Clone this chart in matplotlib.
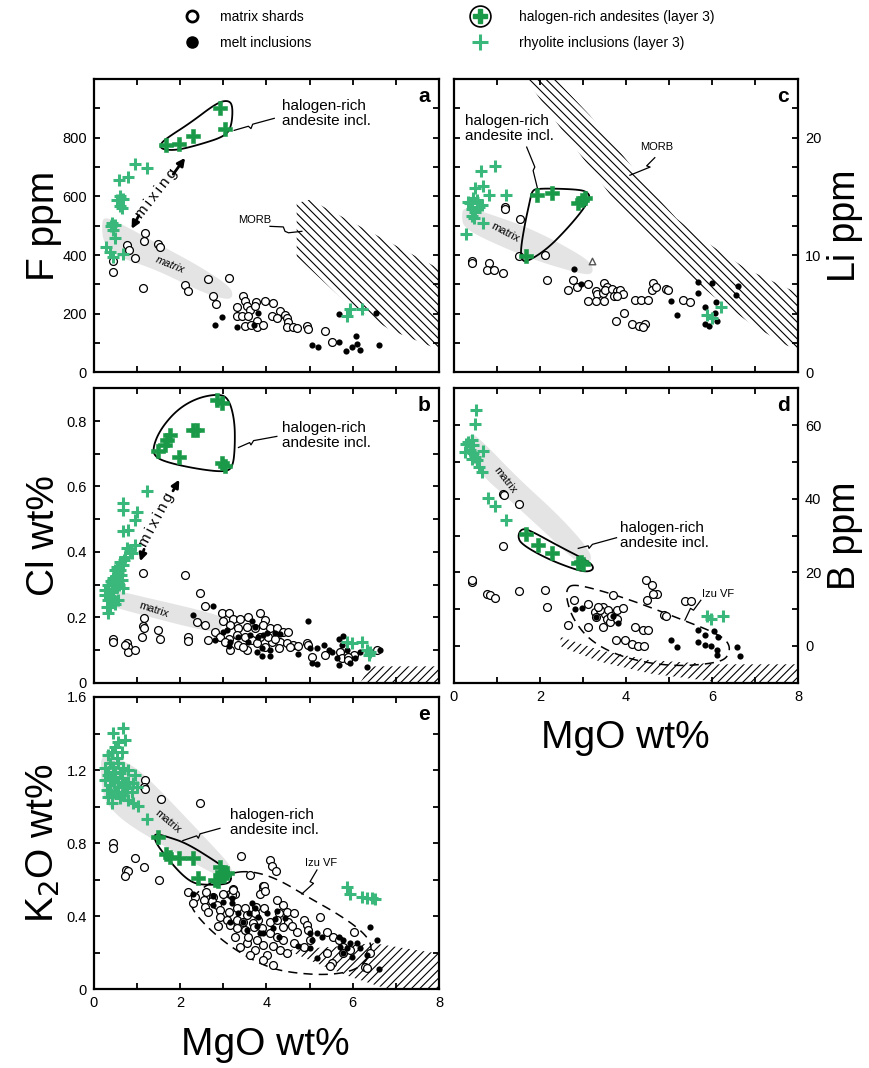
import numpy as np
import matplotlib
matplotlib.use('Agg')
import matplotlib.pyplot as plt
from matplotlib.patches import Polygon
from matplotlib.lines import Line2D
from matplotlib.ticker import FuncFormatter

plt.rcParams['font.family'] = ['Liberation Sans', 'DejaVu Sans']
plt.rcParams['hatch.linewidth'] = 0.8

RHYO = '#3ab77a'
HALO = '#1a9a48'
BAND = '#e4e4e4'

# ---------------- data (MgO wt%, value) ----------------
# panel a : F ppm
a_matrix = [(1.18,475),(1.17,447),(0.76,433),(0.82,418),(1.49,439),(1.53,427),(0.95,390),(0.43,381),
            (0.43,344),(1.14,287),(2.10,299),(2.17,278),(2.65,318),(3.12,321),(2.75,261),(2.83,235),
            (3.46,261),(3.50,242),(3.76,239),(3.97,244),(3.31,222),(3.54,227),(3.62,213),(3.74,225),
            (3.31,191),(3.43,191),(3.58,191),(3.77,177),(3.50,159),(3.64,162),(3.77,154),(3.93,162),
            (4.16,236),(4.32,211),(4.43,196),(4.12,191),(4.24,185),(4.47,185),(4.51,173),(4.47,154),
            (4.62,156),(4.70,151),(4.93,159),(4.97,147),(5.36,143),(5.51,105)]
a_melt = [(2.81,162),(2.96,188),(3.31,156),(3.70,162),(3.81,202),(5.67,199),(6.54,204),(5.05,94),
          (5.20,86),(5.67,105),(6.07,125),(5.98,86),(5.85,73),(6.09,97),(6.16,77),(6.62,94)]
a_rhyo = [(0.95,710),(1.24,696),(0.59,657),(0.80,666),(0.60,602),(0.53,587),(0.68,591),(0.60,568),
          (0.65,560),(0.41,509),(0.49,503),(0.45,486),(0.39,498),(0.49,458),(0.28,429),(0.36,412),
          (0.45,395),(0.68,404),(5.94,217),(6.21,217),(5.86,191)]
a_halo = [(2.92,902),(3.04,828),(2.30,805),(1.96,780),(1.67,776)]

# panel b : Cl wt%
b_matrix = [(1.14,0.334),(2.11,0.329),(2.46,0.273),(2.58,0.235),(2.38,0.186),(2.58,0.176),(1.17,0.199),
            (1.14,0.174),(1.17,0.166),(1.11,0.140),(1.49,0.161),(1.53,0.135),(0.45,0.135),(0.43,0.125),
            (0.76,0.120),(0.80,0.110),(0.80,0.094),(0.95,0.099),(0.72,0.115),(2.19,0.140),(2.17,0.128),
            (2.65,0.130),(2.81,0.156),(2.96,0.214),(3.14,0.214),(3.00,0.189),(3.23,0.196),(3.39,0.196),
            (3.58,0.200),(3.84,0.214),(3.97,0.193),(3.16,0.176),(3.35,0.166),(3.54,0.171),(3.74,0.166),
            (3.93,0.176),(4.08,0.166),(4.24,0.166),(4.39,0.156),(4.51,0.156),(2.92,0.140),(3.12,0.135),
            (3.31,0.145),(3.50,0.140),(3.66,0.130),(3.85,0.140),(4.12,0.125),(4.32,0.125),(4.47,0.120),
            (4.62,0.115),(4.74,0.112),(3.35,0.115),(3.54,0.099),(3.77,0.120),(3.97,0.110),(4.28,0.105),
            (4.55,0.108),(4.93,0.120),(4.97,0.115),(5.05,0.079),(5.36,0.084),(5.71,0.094),(5.75,0.074),
            (6.02,0.084),(5.90,0.079),(3.16,0.099),(6.56,0.099),(5.90,0.069),(3.04,0.125),(4.04,0.140),
            (4.20,0.135),(3.46,0.110)]
b_melt = [(2.30,0.207),(2.77,0.234),(2.98,0.156),(3.08,0.161),(3.16,0.125),(3.66,0.189),(3.74,0.171),
          (3.91,0.145),(4.01,0.151),(4.20,0.151),(4.32,0.149),(3.89,0.105),(3.89,0.081),(4.08,0.081),
          (4.07,0.099),(2.81,0.132),(3.14,0.112),(3.62,0.145),(3.81,0.140),(3.35,0.140),(4.72,0.087),
          (4.97,0.189),(5.01,0.105),(5.17,0.105),(5.05,0.059),(5.18,0.057),(5.34,0.115),(5.44,0.099),
          (5.51,0.094),(5.63,0.074),(5.67,0.054),(5.67,0.135),(5.78,0.142),(5.75,0.115),(5.86,0.099),
          (5.94,0.059),(6.06,0.077),(6.17,0.094),(6.33,0.048),(6.64,0.099),(3.77,0.094),(3.58,0.125)]
b_rhyo = [(1.22,0.586),(0.68,0.549),(0.68,0.528),(0.99,0.523),(0.95,0.497),(0.68,0.465),(0.80,0.467),
          (0.95,0.421),(0.83,0.406),(0.72,0.385),(0.60,0.370),(0.68,0.360),(0.49,0.344),(0.56,0.334),
          (0.45,0.319),(0.64,0.314),(0.33,0.298),(0.53,0.293),(0.41,0.278),(0.26,0.283),(0.45,0.263),
          (0.33,0.253),(0.56,0.253),(0.29,0.232),(0.49,0.242),(0.33,0.212),(0.76,0.411),(0.87,0.395),
          (0.53,0.355),(0.41,0.304),(0.68,0.288),(0.37,0.232),(0.26,0.268),(0.60,0.345),(0.50,0.325),
          (0.40,0.310),(0.58,0.300),(0.45,0.285),(0.36,0.265),(0.62,0.330),(0.70,0.375),
          (5.86,0.125),(5.98,0.120),(6.21,0.125),(6.33,0.099),(6.40,0.094),(6.37,0.084)]
b_halo = [(2.85,0.865),(2.96,0.855),(2.38,0.773),(2.30,0.773),(1.76,0.758),(1.70,0.742),(1.65,0.727),
          (1.49,0.707),(1.96,0.689),(2.96,0.671),(3.04,0.663)]

# panel c : Li ppm
c_matrix = [(1.19,14.1),(1.19,13.9),(1.53,13.1),(1.50,9.9),(2.12,10.0),(0.43,9.5),(0.43,9.3),(0.82,9.3),
            (0.76,8.7),(0.93,8.7),(1.15,8.5),(2.17,7.9),(2.76,7.9),(2.66,7.0),(2.85,7.3),(3.12,7.5),
            (3.49,7.6),(3.55,7.3),(3.30,6.9),(3.32,6.7),(3.46,6.8),(3.51,7.0),(3.67,7.1),(3.78,6.9),
            (3.86,7.0),(3.94,6.7),(3.71,6.5),(3.78,6.5),(3.12,6.1),(3.30,6.1),(3.49,6.1),(4.21,6.2),
            (4.36,6.2),(4.50,6.2),(4.62,7.6),(4.60,7.0),(4.70,7.3),(4.93,7.1),(4.98,7.0),(5.33,6.2),
            (5.49,6.0),(3.95,5.1),(3.76,4.4),(4.13,4.1),(4.31,4.0),(4.44,4.1),(4.40,3.9)]
c_melt = [(2.80,8.8),(2.95,7.5),(5.04,6.1),(5.19,4.9),(5.68,7.7),(5.68,6.8),(5.99,7.6),(5.84,5.6),
          (6.09,6.0),(6.07,5.1),(5.94,4.0),(5.84,4.1),(6.11,4.4),(6.56,6.6),(6.61,7.4)]
c_rhyo = [(0.95,17.6),(0.62,17.2),(0.49,15.7),(0.68,15.9),(0.82,15.1),(1.22,15.1),(0.33,14.5),(0.45,14.9),
          (0.53,14.7),(0.64,14.3),(0.41,13.9),(0.49,13.7),(0.43,13.3),(0.47,13.2),(0.67,12.7),(0.28,11.8),
          (0.37,14.4),(0.57,14.1),(5.88,4.9),(5.99,4.6),(6.22,5.6)]
c_halo = [(1.94,15.1),(2.29,15.3),(2.89,14.4),(2.97,14.7),(3.05,14.9),(1.67,9.9)]
c_other = [(3.22,9.46)]

# panel d : B ppm
d_matrix = [(0.43,17.4),(0.43,17.9),(0.76,14.2),(0.84,13.8),(0.95,12.9),(1.15,41.4),(1.16,40.9),
            (1.52,38.5),(1.13,27.1),(1.50,15.0),(2.12,15.1),(2.16,10.6),(2.66,5.6),(2.78,12.6),
            (3.12,11.5),(3.28,9.2),(3.30,7.9),(3.47,10.6),(3.51,8.8),(3.55,7.4),(3.59,9.7),(3.63,6.5),
            (3.78,9.7),(3.92,10.2),(3.46,5.2),(3.12,5.2),(3.69,13.8),(3.80,7.4),(4.21,5.2),(4.40,4.4),
            (4.52,4.4),(3.77,1.7),(3.98,1.7),(4.13,0.6),(4.29,-0.1),(4.42,0.1),(4.47,17.9),(4.48,12.6),
            (4.60,16.5),(4.71,14.2),(4.62,14.2),(4.88,8.3),(4.93,8.1),(5.37,12.3),(5.50,12.3),
            (3.40,9.8),(3.35,10.5),(3.66,8.2)]
d_melt = [(2.81,9.9),(2.97,10.4),(3.30,7.9),(3.69,8.1),(3.82,6.1),(5.04,1.5),(5.19,-0.4),(5.68,4.3),
          (5.84,2.9),(6.05,4.1),(6.15,2.3),(5.68,1.1),(5.84,0.2),(5.97,-0.1),(6.11,-1.0),(6.11,-2.5),
          (6.57,-0.3),(6.64,-2.7)]
d_rhyo = [(0.51,64.0),(0.49,60.2),(0.33,55.4),(0.41,55.9),(0.26,52.7),(0.37,53.2),(0.45,52.3),(0.68,53.0),
          (0.53,50.5),(0.57,48.7),(0.64,47.3),(0.78,40.3),(0.95,38.0),(1.22,34.2),(0.28,55.0),(0.45,54.5),
          (0.49,51.4),(0.41,50.9),(5.88,8.1),(5.97,7.2),(6.25,8.2)]
d_halo = [(1.67,30.3),(1.96,27.4),(2.29,25.3),(2.89,22.6),(2.99,22.2),(2.95,22.8)]

# panel e : K2O wt%
e_matrix = [(1.18,1.146),(1.17,1.106),(1.18,1.095),(1.55,1.040),(2.46,1.018),(0.45,0.800),(0.45,0.772),
            (0.95,0.717),(1.16,0.671),(0.74,0.653),(0.80,0.648),(0.72,0.620),(1.50,0.598),(3.41,0.730),
            (4.08,0.708),(4.12,0.677),(4.22,0.648),(3.62,0.626),(3.93,0.566),(3.93,0.544),(3.85,0.522),
            (3.23,0.547),(3.16,0.522),(3.27,0.522),
            (3.95,0.567),(3.97,0.538),(2.19,0.534),(2.60,0.531),(3.00,0.520),(3.19,0.516),(3.23,0.544),
            (2.34,0.507),(2.77,0.507),(2.54,0.489),(2.73,0.485),(2.29,0.471),(2.57,0.452),(2.85,0.461),
            (2.65,0.425),(2.92,0.434),(3.12,0.425),(3.31,0.443),(3.50,0.443),(3.76,0.452),(3.94,0.443),
            (4.24,0.489),(4.39,0.461),(4.47,0.425),(4.28,0.416),(3.54,0.407),(3.74,0.416),(3.81,0.379),
            (4.08,0.370),(4.24,0.379),(4.51,0.370),(4.64,0.416),(2.92,0.396),(3.08,0.379),(3.31,0.379),
            (3.46,0.370),(3.68,0.365),(3.16,0.352),(3.31,0.334),(3.50,0.325),(3.70,0.339),(3.89,0.334),
            (4.39,0.343),(4.59,0.347),(4.70,0.316),(4.08,0.310),(4.24,0.288),(4.39,0.270),(3.77,0.270),
            (3.54,0.252),(3.93,0.243),(4.16,0.237),(3.74,0.215),(4.01,0.188),(4.31,0.215),(4.86,0.379),
            (4.93,0.352),(4.97,0.325),(5.23,0.396),(5.40,0.316),(5.55,0.288),(5.67,0.270),(5.78,0.233),
            (6.02,0.316),(5.51,0.142),(5.48,0.128),(3.93,0.160),(4.16,0.133),(6.29,0.124),(6.33,0.115),
            (6.40,0.197),(2.88,0.347),(3.27,0.288),(3.58,0.288),(3.39,0.233),(3.62,0.188),(4.63,0.252),
            (4.86,0.233),(4.47,0.197),(5.01,0.270),(5.40,0.197),(5.78,0.197),(5.94,0.215)]
e_melt = [(2.30,0.522),(2.77,0.511),(3.00,0.480),(3.19,0.471),(2.77,0.461),(3.19,0.498),(3.66,0.471),
          (3.74,0.443),(4.01,0.420),(4.24,0.430),(3.35,0.420),(3.60,0.420),(3.16,0.370),(3.46,0.370),
          (3.81,0.394),(4.20,0.383),(4.43,0.388),(3.77,0.347),(3.93,0.306),(3.85,0.306),(4.16,0.334),
          (4.28,0.288),(4.74,0.237),(5.01,0.306),(5.17,0.306),(5.28,0.288),(5.05,0.270),(5.01,0.224),
          (5.17,0.170),(5.67,0.288),(5.78,0.270),(5.94,0.252),(6.09,0.252),(5.71,0.233),(5.86,0.224),
          (5.78,0.197),(5.98,0.179),(6.17,0.224),(6.33,0.188),(6.56,0.270),(6.62,0.109),(6.40,0.343),
          (3.54,0.325)]
e_rhyo = [(0.68,1.429),(0.45,1.401),(0.56,1.356),(0.72,1.365),(0.49,1.328),(0.41,1.301),(0.64,1.301),
          (0.33,1.283),(0.53,1.264),(0.37,1.237),(0.56,1.237),(0.45,1.219),(0.26,1.210),(0.68,1.210),
          (0.80,1.200),(0.49,1.191),(0.60,1.182),(0.33,1.173),(0.95,1.173),(0.26,1.146),(0.45,1.146),
          (0.64,1.155),(0.80,1.136),(0.91,1.127),(0.37,1.118),(0.56,1.109),(0.76,1.100),(0.99,1.109),
          (0.29,1.091),(0.49,1.082),(0.68,1.082),(0.87,1.082),(0.33,1.055),(0.60,1.046),(0.80,1.036),
          (0.41,1.018),(0.91,1.018),(1.03,1.003),(1.22,0.930),(0.49,1.164),(0.56,1.136),(0.72,1.118),
          (0.41,1.064),(0.64,1.064),
          (5.86,0.562),(5.94,0.522),(6.21,0.507),(6.33,0.498),(6.44,0.498),(6.52,0.494)]
e_halo = [(1.49,0.836),(1.66,0.741),(1.76,0.726),(1.96,0.717),(2.29,0.717),(2.42,0.607),(2.81,0.598),
          (2.92,0.671),(2.96,0.644),(3.02,0.626),(3.08,0.638),(2.88,0.595)]

# ---------------- fields / outlines (MgO wt%, value) ----------------
a_band = [(0.22,532),(0.60,509),(1.45,441),(2.46,361),(3.16,293),(3.23,259),(3.08,247),(2.46,276),
          (1.45,350),(0.53,395),(0.22,441),(0.18,498)]
a_ring = [(1.53,777),(1.69,799),(2.23,850),(2.85,919),(3.12,928),(3.22,907),(3.19,839),(3.04,805),
          (2.46,777),(1.92,757),(1.57,760)]
a_morb = [(4.70,577),(5.01,589),(8.3,330),(8.3,60),(6.87,145),(5.78,247),(4.70,395)]

b_band = [(0.30,0.290),(0.53,0.281),(2.85,0.210),(3.00,0.193),(2.96,0.166),(2.81,0.149),(0.45,0.230),
          (0.30,0.240)]
b_ring = [(2.88,0.883),(3.12,0.870),(3.26,0.804),(3.27,0.722),(3.22,0.659),(3.04,0.644),(2.46,0.652),
          (1.76,0.671),(1.42,0.689),(1.36,0.717),(1.53,0.773),(1.92,0.834),(2.38,0.870)]
b_morb = [(6.13,-0.01),(6.40,0.050),(8.3,0.050),(8.3,-0.01)]

c_band = [(0.22,14.1),(0.68,13.7),(1.84,12.2),(3.01,9.9),(3.24,9.0),(3.20,8.3),(2.85,8.5),(1.84,9.6),
          (0.68,11.4),(0.22,12.4),(0.18,13.3)]
c_ring = [(1.81,15.4),(1.92,15.7),(2.93,15.6),(3.12,15.3),(3.16,14.9),(3.01,13.9),(2.62,12.2),
          (2.16,10.5),(1.69,9.4),(1.57,9.6),(1.55,10.5),(1.65,12.7),(1.77,14.7)]
c_morb = [(1.95,26.5),(2.39,24.9),(3.16,21.9),(3.86,18.8),(4.56,15.6),(5.18,13.1),(5.87,11.1),
          (6.81,8.8),(7.97,6.8),(8.3,6.1),(8.3,1.4),(7.97,2.0),(7.74,2.3),(6.96,4.0),(6.03,6.5),
          (5.18,9.1),(4.40,11.9),(3.70,14.8),(3.07,17.9),(2.54,20.5),(1.73,24.7),(1.38,26.5)]

d_band = [(0.37,58.2),(0.68,55.4),(1.46,45.9),(2.47,35.1),(3.16,26.0),(3.20,22.8),(2.97,21.5),
          (2.23,29.6),(1.30,39.6),(0.60,46.8),(0.26,54.1)]
d_ring = [(1.57,31.9),(1.77,31.4),(2.47,26.9),(3.16,22.8),(3.26,21.0),(3.12,20.1),(2.85,20.6),
          (2.16,23.7),(1.57,27.6),(1.48,29.8)]
d_izu = [(2.62,15.6),(2.78,16.8),(3.40,15.1),(4.25,11.9),(5.33,7.0),(6.11,3.4),(6.42,0.6),(6.38,-3.0),
         (6.11,-4.6),(5.33,-5.5),(4.56,-4.8),(3.78,-2.5),(3.16,1.5),(2.78,7.0),(2.62,12.4)]
d_morb = [(2.47,2.5),(3.40,-1.2),(4.56,-3.9),(6.11,-5.0),(8.3,-5.0),(8.3,-11),(6.11,-9.8),(4.56,-7.5),
          (3.40,-4.3),(2.50,-0.3)]

e_band = [(0.18,1.301),(0.91,1.228),(1.45,1.109),(2.15,0.936),(2.77,0.781),(3.16,0.680),(3.23,0.626),
          (3.08,0.598),(2.46,0.671),(1.45,0.808),(0.76,0.908),(0.37,0.991),(0.22,1.055),(0.15,1.182)]
e_ring = [(1.39,0.854),(1.69,0.836),(2.15,0.799),(2.77,0.708),(3.16,0.644),(3.19,0.598),(3.08,0.575),
          (2.61,0.571),(2.30,0.580),(2.00,0.635),(1.61,0.744),(1.42,0.808)]
e_izu = [(3.12,0.635),(3.62,0.649),(4.24,0.607),(5.01,0.498),(5.63,0.416),(6.17,0.328),(6.44,0.252),
         (6.40,0.179),(6.09,0.106),(5.48,0.078),(4.70,0.087),(4.08,0.115),(3.39,0.197),(2.77,0.306),
         (2.30,0.425),(2.23,0.489),(2.54,0.562)]
e_morb = [(4.47,0.215),(5.55,0.233),(6.48,0.252),(7.95,0.197),(8.3,0.17),(8.3,-0.01),(6.95,-0.01),
          (5.94,0.069),(5.17,0.142)]


def smooth(pts, n=4):
    p = np.asarray(pts, float)
    for _ in range(n):
        q = np.roll(p, -1, axis=0)
        new = np.empty((2 * len(p), 2))
        new[0::2] = 0.75 * p + 0.25 * q
        new[1::2] = 0.25 * p + 0.75 * q
        p = new
    return p


def xy(pts):
    p = np.asarray(pts, float)
    return p[:, 0], p[:, 1]


def points(ax, matrix, melt, rhyo, halo):
    x, y = xy(matrix)
    ax.scatter(x, y, s=32, facecolors='white', edgecolors='black', linewidths=0.9, zorder=3)
    x, y = xy(melt)
    ax.scatter(x, y, s=20, c='black', linewidths=0, zorder=3.5)
    x, y = xy(rhyo)
    ax.scatter(x, y, s=70, marker='+', c=RHYO, linewidths=2.2, zorder=4)
    x, y = xy(halo)
    ax.scatter(x, y, s=110, marker='P', c=HALO, edgecolors=HALO, linewidths=0.4, zorder=6)


def fields(ax, band, ring, morb, hatch, izu=None):
    ax.add_patch(Polygon(smooth(band), closed=True, facecolor=BAND, edgecolor='none', zorder=0.5))
    ax.add_patch(Polygon(smooth(ring), closed=True, facecolor='none', edgecolor='black', lw=1.3, zorder=5))
    ax.add_patch(Polygon(morb, closed=True, facecolor='none', edgecolor='black', lw=0, hatch=hatch, zorder=0.6))
    if izu is not None:
        ax.add_patch(Polygon(smooth(izu), closed=True, facecolor='none', edgecolor='black', lw=1.1,
                             linestyle=(0, (6, 4)), zorder=2))


def leader(ax, pts):
    x, y = xy(pts)
    ax.plot(x, y, color='black', lw=0.9, zorder=5)


def halo_label(ax, x, y):
    ax.text(x, y, 'halogen-rich\nandesite incl.', fontsize=11, ha='left', va='center',
            linespacing=1.1, zorder=7)


def frame(ax, ylim, yticks, ylabels, side='left', xlabels=False):
    ax.set_xlim(0, 8)
    ax.set_ylim(*ylim)
    ax.set_xticks(np.arange(0, 9, 1))
    ax.set_xticklabels([str(v) if (xlabels and v % 2 == 0) else '' for v in range(9)])
    ax.set_yticks(yticks)
    ax.yaxis.set_major_formatter(FuncFormatter(lambda v, p: ylabels.get(round(v, 3), '')))
    ax.tick_params(direction='in', length=4, width=1.3, top=True, right=True, left=True, bottom=True,
                   labelsize=10.5, pad=5)
    if side == 'right':
        ax.tick_params(labelleft=False, labelright=True)
        ax.yaxis.set_label_position('right')
    for s in ax.spines.values():
        s.set_linewidth(1.6)


def letter(ax, s):
    ax.text(0.957, 0.94, s, transform=ax.transAxes, fontsize=15, fontweight='bold', ha='center', va='center')


fig = plt.figure(figsize=(8.7, 10.68), dpi=100)
W, H = 870.0, 1068.0


def box(l, t, r, b):
    return fig.add_axes([l / W, 1 - b / H, (r - l) / W, (b - t) / H])


ax_a = box(94, 79, 439, 372.5)
ax_c = box(454, 79, 798, 372.5)
ax_b = box(94, 388.3, 439, 682.7)
ax_d = box(454, 388.3, 798, 682.7)
ax_e = box(94, 697, 439, 989.3)

BS = '\\' * 4
FS = '/' * 4
MIX = '\u2009'.join('mixing')

# ---- a ----
points(ax_a, a_matrix, a_melt, a_rhyo, a_halo)
fields(ax_a, a_band, a_ring, a_morb, BS)
frame(ax_a, (0, 1000), np.arange(0, 1000, 100), {0: '0', 200: '200', 400: '400', 600: '600', 800: '800'})
halo_label(ax_a, 4.35, 881)
leader(ax_a, [(3.25, 825), (3.58, 839), (3.64, 831), (3.68, 846), (4.18, 866)])
ax_a.text(3.35, 520, 'MORB', fontsize=8, ha='left', va='center')
leader(ax_a, [(4.08, 498), (4.39, 496), (4.43, 481), (4.51, 476), (4.82, 481)])
ax_a.text(1.45, 611, MIX, fontsize=11, rotation=52, ha='center', va='center')
ax_a.annotate('', xy=(2.15, 739), xytext=(1.80, 668),
              arrowprops=dict(arrowstyle='-|>', lw=2, color='black', mutation_scale=11))
ax_a.annotate('', xy=(0.84, 481), xytext=(1.07, 543),
              arrowprops=dict(arrowstyle='-|>', lw=2, color='black', mutation_scale=11))
ax_a.text(1.76, 367, 'matrix', fontsize=8, rotation=-22, ha='center', va='center', style='italic')
ax_a.set_ylabel('F ppm', fontsize=28)
ax_a.yaxis.set_label_coords(-0.093, 0.5)
letter(ax_a, 'a')

# ---- b ----
points(ax_b, b_matrix, b_melt, b_rhyo, b_halo)
fields(ax_b, b_band, b_ring, b_morb, FS)
frame(ax_b, (0, 0.9), np.round(np.arange(0, 0.9, 0.1), 2),
      {0.0: '0', 0.2: '0.2', 0.4: '0.4', 0.6: '0.6', 0.8: '0.8'})
halo_label(ax_b, 4.35, 0.757)
leader(ax_b, [(3.35, 0.719), (3.61, 0.734), (3.64, 0.727), (3.70, 0.740), (4.24, 0.753)])
ax_b.text(1.45, 0.497, MIX, fontsize=11, rotation=62, ha='center', va='center')
ax_b.annotate('', xy=(2.01, 0.628), xytext=(1.80, 0.579),
              arrowprops=dict(arrowstyle='-|>', lw=2, color='black', mutation_scale=11))
ax_b.annotate('', xy=(1.05, 0.363), xytext=(1.18, 0.416),
              arrowprops=dict(arrowstyle='-|>', lw=2, color='black', mutation_scale=11))
ax_b.text(1.38, 0.222, 'matrix', fontsize=8, rotation=-18, ha='center', va='center')
ax_b.set_ylabel('Cl wt%', fontsize=28)
ax_b.yaxis.set_label_coords(-0.093, 0.5)
letter(ax_b, 'b')

# ---- c ----
points(ax_c, c_matrix, c_melt, c_rhyo, c_halo)
x, y = xy(c_other)
ax_c.scatter(x, y, s=22, marker='^', facecolors='white', edgecolors='#555555', linewidths=1, zorder=3)
fields(ax_c, c_band, c_ring, c_morb, BS)
frame(ax_c, (0, 25), np.arange(0, 25, 2.5), {0: '0', 10: '10', 20: '20'}, side='right')
halo_label(ax_c, 0.26, 20.8)
leader(ax_c, [(1.69, 19.2), (1.88, 17.5), (1.84, 17.2), (1.94, 15.7)])
ax_c.text(4.33, 19.2, 'MORB', fontsize=8, ha='left', va='center')
leader(ax_c, [(4.67, 18.3), (4.48, 17.6), (4.56, 17.5), (4.09, 16.8)])
ax_c.text(1.19, 11.9, 'matrix', fontsize=8, rotation=-28, ha='center', va='center')
ax_c.set_ylabel('Li ppm', fontsize=27, rotation=90)
ax_c.yaxis.set_label_coords(1.083, 0.5)
letter(ax_c, 'c')

# ---- d ----
points(ax_d, d_matrix, d_melt, d_rhyo, d_halo)
fields(ax_d, d_band, d_ring, d_morb, FS, izu=d_izu)
frame(ax_d, (-10, 70), np.arange(-10, 70, 10), {0: '0', 20: '20', 40: '40', 60: '60'}, side='right',
      xlabels=True)
halo_label(ax_d, 3.86, 30.1)
leader(ax_d, [(2.89, 26.5), (3.12, 27.2), (3.14, 26.5), (3.22, 27.6), (3.78, 29.4)])
ax_d.text(5.76, 14.2, 'Izu VF', fontsize=8, ha='left', va='center')
leader(ax_d, [(5.74, 12.4), (5.57, 9.7), (5.50, 10.2), (5.37, 7.0)])
ax_d.text(1.19, 45.0, 'matrix', fontsize=8, rotation=-52, ha='center', va='center')
ax_d.set_ylabel('B ppm', fontsize=27, rotation=90)
ax_d.yaxis.set_label_coords(1.083, 0.5)
ax_d.set_xlabel('MgO wt%', fontsize=28)
ax_d.xaxis.set_label_coords(0.497, -0.125)
letter(ax_d, 'd')

# ---- e ----
points(ax_e, e_matrix, e_melt, e_rhyo, e_halo)
fields(ax_e, e_band, e_ring, e_morb, FS, izu=e_izu)
frame(ax_e, (0, 1.6), np.round(np.arange(0, 1.6, 0.2), 2),
      {0.0: '0', 0.4: '0.4', 0.8: '0.8', 1.2: '1.2', 1.6: '1.6'}, xlabels=True)
ax_e.set_yticks(np.round(np.arange(0, 1.7, 0.2), 2))
halo_label(ax_e, 3.16, 0.915)
leader(ax_e, [(2.06, 0.814), (2.38, 0.840), (2.42, 0.827), (2.46, 0.851), (2.92, 0.881)])
ax_e.text(4.90, 0.690, 'Izu VF', fontsize=8, ha='left', va='center')
leader(ax_e, [(5.17, 0.653), (5.01, 0.589), (5.09, 0.580), (4.82, 0.522)])
ax_e.text(1.72, 0.918, 'matrix', fontsize=8, rotation=-40, ha='center', va='center')
ax_e.set_ylabel('K$_2$O wt%', fontsize=28)
ax_e.yaxis.set_label_coords(-0.093, 0.5)
ax_e.set_xlabel('MgO wt%', fontsize=28)
ax_e.xaxis.set_label_coords(0.496, -0.13)
letter(ax_e, 'e')

# ---- legend ----
h_open = Line2D([], [], ls='none', marker='o', ms=8, mfc='white', mec='black', mew=2)
h_melt = Line2D([], [], ls='none', marker='o', ms=8, mfc='black', mec='black')
h_ring = Line2D([], [], ls='none', marker='o', ms=15, mfc='white', mec='black', mew=1.2)
h_halo = Line2D([], [], ls='none', marker='P', ms=10, mfc=HALO, mec=HALO)
h_rhyo = Line2D([], [], ls='none', marker='+', ms=12, mec=RHYO, mew=2.2)
leg1 = fig.legend([h_open, h_melt], ['matrix shards', 'melt inclusions'], loc='upper left',
                  bbox_to_anchor=(184 / W, 1 - 10 / H), frameon=False, fontsize=10, handlelength=1.2,
                  handletextpad=1.4, labelspacing=0.85, borderpad=0, borderaxespad=0)
leg2 = fig.legend([(h_ring, h_halo), h_rhyo], ['halogen-rich andesites (layer 3)', 'rhyolite inclusions (layer 3)'],
                  loc='upper left', bbox_to_anchor=(472 / W, 1 - 10 / H), frameon=False, fontsize=10,
                  handlelength=1.2, handletextpad=2.2, labelspacing=0.85, borderpad=0, borderaxespad=0)

fig.savefig('out.png', dpi=100)
